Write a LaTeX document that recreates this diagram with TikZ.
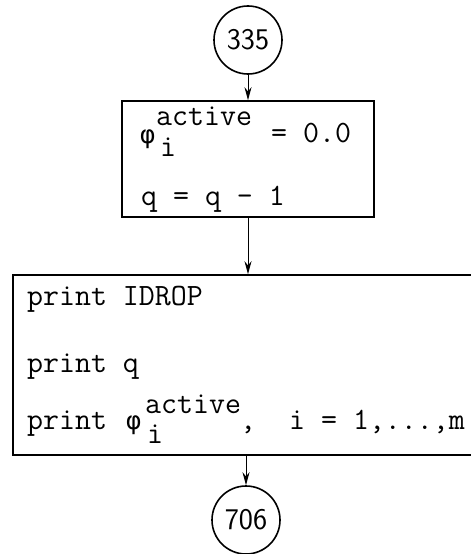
\documentclass[tikz,border=0pt]{standalone}
\usepackage{fontspec}
\usetikzlibrary{arrows.meta}
\newfontfamily\grk{DejaVu Sans Mono}
\begin{document}
\begin{tikzpicture}[x=1pt,y=-1pt,
  box/.style={draw,line width=1.6pt,inner sep=0pt},
  conn/.style={draw,circle,line width=1.6pt,minimum size=68pt,inner sep=0pt,font=\sffamily\fontsize{30}{30}\selectfont},
  txt/.style={anchor=base west,inner sep=0pt,font=\ttfamily\fontsize{31}{36}\selectfont},
  gr/.style={anchor=base west,inner sep=0pt,font=\grk\fontsize{25}{30}\selectfont},
  arr/.style={line width=1pt,-{Stealth[length=13pt,width=7pt]}}]
\useasboundingbox (0,0) rectangle (471,554);
% connectors (circles)
\node[conn] (c1) at (248,40) {335};
\node[conn] (c2) at (246,520) {706};
% boxes
\node[box,minimum width=252pt,minimum height=116pt] (b1) at (248,159) {};
\node[box,minimum width=460pt,minimum height=180pt] (b2) at (243,365) {};
% box 1 text
\node[gr]  (t1a) at (140,143) {φ};
\node[txt] (t1b) at (156,125) {active};
\node[txt] (t1c) at (160,156) {i};
\node[txt] (t1d) at (271,142) {= 0.0};
\node[txt] (t1e) at (141,205) {q = q - 1};
% box 2 text
\node[txt] (t2a) at (27,305) {print IDROP};
\node[txt] (t2b) at (27,372) {print q};
\node[txt] (t2c) at (27,429) {print};
\node[gr]  (t2d) at (126,429) {φ};
\node[txt] (t2e) at (145,413) {active};
\node[txt] (t2f) at (147,443) {i};
\node[txt] (t2g) at (240,429) {,};
\node[txt] (t2h) at (289,429) {i = 1,...,m};
% arrows
\draw[arr] (c1.south) -- (c1.south |- b1.north);
\draw[arr] (b1.south) -- (b1.south |- b2.north);
\draw[arr] (c2.north |- b2.south) -- (c2.north);
\end{tikzpicture}
\end{document}
